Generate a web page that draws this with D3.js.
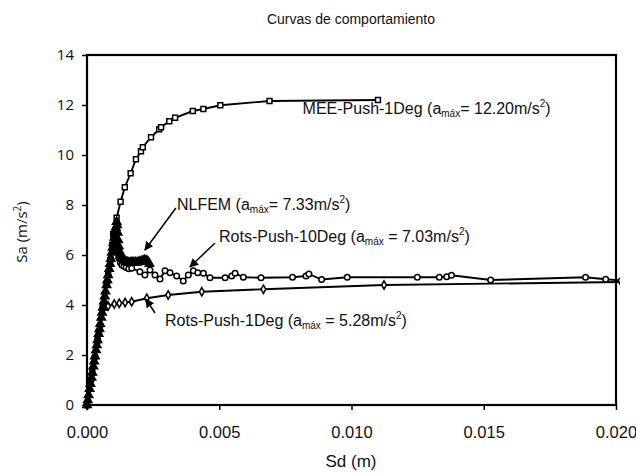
<!DOCTYPE html>
<html><head><meta charset="utf-8">
<script src="https://cdn.jsdelivr.net/npm/d3@7"></script>
<style>
body{margin:0;background:#fff;}
svg{display:block;}
</style></head>
<body>
<svg id="c" width="636" height="474"></svg>
<script>
// ---- data ----
const xTicks = [0, 0.005, 0.010, 0.015, 0.020];
const yTicks = [0, 2, 4, 6, 8, 10, 12, 14];

const meeX = [0, 0.0002, 0.0004, 0.0006, 0.0008, 0.00088, 0.00095, 0.00099, 0.00112, 0.00127, 0.00143, 0.00165, 0.00185, 0.00204, 0.00211, 0.00242, 0.00273, 0.0028, 0.00311, 0.00333, 0.004, 0.0044, 0.00504, 0.0069, 0.011];
const meeY = [0, 1.3, 2.6, 3.9, 5.2, 5.8, 6.4, 6.83, 7.49, 8.13, 8.71, 9.27, 9.83, 10.15, 10.31, 10.71, 11.03, 11.11, 11.35, 11.49, 11.76, 11.84, 11.99, 12.16, 12.2];

const nlfemX = [0, 0.00003, 0.00006, 0.0001, 0.00013, 0.00017, 0.0002, 0.00024, 0.00027, 0.0003, 0.00034, 0.00037, 0.0004, 0.00044, 0.00047, 0.0005, 0.00054, 0.00057, 0.0006, 0.00064, 0.00067, 0.0007, 0.00074, 0.00077, 0.0008, 0.00084, 0.00087, 0.0009, 0.00094, 0.00097, 0.001, 0.00103, 0.00106, 0.00109, 0.00112, 0.00114, 0.00116, 0.00118, 0.0012, 0.00123, 0.00126, 0.0013, 0.00135, 0.0014, 0.00146, 0.00152, 0.00158, 0.00164, 0.0017, 0.00176, 0.00182, 0.00188, 0.00194, 0.002, 0.00206, 0.00212, 0.00218, 0.00224, 0.0023, 0.00236];
const nlfemY = [0, 0.2, 0.4, 0.65, 0.85, 1.1, 1.3, 1.55, 1.75, 1.95, 2.2, 2.4, 2.6, 2.85, 3.05, 3.25, 3.5, 3.7, 3.9, 4.15, 4.35, 4.55, 4.8, 5.0, 5.2, 5.45, 5.65, 5.85, 6.1, 6.3, 6.5, 6.7, 6.9, 7.1, 7.33, 7.2, 6.9, 6.6, 6.35, 6.15, 6.0, 5.9, 5.85, 5.8, 5.75, 5.72, 5.7, 5.7, 5.72, 5.7, 5.72, 5.7, 5.72, 5.74, 5.75, 5.78, 5.8, 5.78, 5.75, 5.65];

const rots10X = [0, 0.00015, 0.0003, 0.00045, 0.0006, 0.00075, 0.0009, 0.00105, 0.00108, 0.00112, 0.00116, 0.0012, 0.00126, 0.00132, 0.0014, 0.00148, 0.00158, 0.00169, 0.002, 0.00219, 0.00238, 0.00257, 0.00276, 0.00295, 0.00314, 0.00339, 0.00364, 0.00383, 0.00402, 0.00419, 0.0044, 0.00465, 0.00522, 0.00547, 0.0056, 0.00591, 0.00658, 0.00777, 0.00828, 0.00839, 0.00887, 0.00984, 0.01249, 0.01332, 0.0136, 0.01378, 0.01526, 0.01885, 0.01961, 0.0202];
const rots10Y = [0, 1.0, 1.95, 2.9, 3.9, 4.85, 5.85, 6.8, 7.03, 6.6, 6.2, 5.9, 5.7, 5.6, 5.55, 5.5, 5.45, 5.47, 5.33, 5.2, 5.4, 5.2, 5.04, 5.37, 5.29, 5.16, 4.96, 5.2, 5.37, 5.29, 5.27, 5.09, 5.09, 5.16, 5.27, 5.11, 5.09, 5.11, 5.16, 5.24, 5.02, 5.11, 5.11, 5.11, 5.13, 5.19, 5.0, 5.11, 5.03, 4.98];

const rots1X = [0, 0.0001, 0.0002, 0.0003, 0.0004, 0.0005, 0.00064, 0.0008, 0.00103, 0.00122, 0.00144, 0.00169, 0.00226, 0.00307, 0.00434, 0.00667, 0.01123, 0.0202];
const rots1Y = [0, 0.62, 1.25, 1.87, 2.5, 3.12, 3.95, 3.96, 4.04, 4.07, 4.1, 4.13, 4.27, 4.4, 4.53, 4.63, 4.8, 4.92];

// annotations
const annLabels = ["MEE-Push-1Deg (a", "NLFEM (a", "Rots-Push-10Deg (a", "Rots-Push-1Deg (a"];
const annValues = ["= 12.20m/s", "= 7.33m/s", " = 7.03m/s", " = 5.28m/s"];
const annTextX = [0.00815, 0.00340, 0.00499, 0.00295];
const annTextY = [11.66, 7.82, 6.54, 3.18];
const annFromX = [null, 0.00336, 0.00484, 0.00257];
const annFromY = [null, 7.88, 6.48, 3.68];
const annToX = [null, 0.00219, 0.00389, 0.00223];
const annToY = [null, 6.2, 5.52, 4.24];

// ---- layout ----
const W = 636, H = 474;
const m = {l: 87, r: 20, t: 55, b: 69};
const svg = d3.select("#c");
const x = d3.scaleLinear().domain([0, 0.02]).range([m.l, W - m.r]);
const y = d3.scaleLinear().domain([0, 14]).range([H - m.b, m.t]);

const defs = svg.append("defs");
defs.append("clipPath").attr("id", "clip")
  .append("rect").attr("x", m.l - 6).attr("y", m.t).attr("width", W - m.r - m.l + 10).attr("height", H - m.b - m.t + 8);

// title
svg.append("text").attr("x", 351).attr("y", 24).attr("text-anchor", "middle")
  .attr("font-family", "Liberation Sans, Arial, sans-serif").attr("font-size", 14).attr("fill", "#111")
  .text("Curvas de comportamiento");

// axes
const xAxis = svg.append("g").attr("transform", `translate(0,${H - m.b})`)
  .call(d3.axisBottom(x).tickValues(xTicks).tickFormat(d3.format(".3f")).tickSize(5).tickPadding(16));
xAxis.selectAll("text").attr("font-family", "Liberation Sans Narrow, Arial Narrow, sans-serif").attr("font-size", 16.5).attr("fill", "#111");
const yAxis = svg.append("g").attr("transform", `translate(${m.l},0)`)
  .call(d3.axisLeft(y).tickValues(yTicks).tickSize(5).tickPadding(8));
yAxis.selectAll("text").attr("font-family", "Open Sans, Noto Sans, sans-serif").attr("font-size", 15).attr("fill", "#111");
svg.selectAll(".domain").remove();
svg.selectAll(".tick line").attr("stroke", "#000").attr("stroke-width", 1.5);

// frame
svg.append("rect").attr("x", x(0)).attr("y", y(14)).attr("width", x(0.02) - x(0)).attr("height", y(0) - y(14))
  .attr("fill", "none").attr("stroke", "#000").attr("stroke-width", 2.2);

// axis labels
svg.append("text").attr("x", 351).attr("y", 467).attr("text-anchor", "middle")
  .attr("font-family", "Liberation Sans Narrow, Arial Narrow, sans-serif").attr("font-size", 17).attr("fill", "#111")
  .text("Sd (m)");
const yl = svg.append("text").attr("transform", "translate(27,232) rotate(-90)").attr("text-anchor", "middle")
  .attr("font-family", "Open Sans, Noto Sans, sans-serif").attr("font-size", 15).attr("fill", "#111");
yl.append("tspan").text("Sa (m/s");
yl.append("tspan").attr("font-size", 10).attr("dy", -6).text("2");
yl.append("tspan").attr("dy", 6).text(")");

// series
const plot = svg.append("g").attr("clip-path", "url(#clip)");
const line = d3.line().x(d => x(d[0])).y(d => y(d[1]));
function series(xs, ys, sym, size, filled) {
  const pts = xs.map((v, i) => [v, ys[i]]);
  plot.append("path").datum(pts).attr("d", line).attr("fill", "none").attr("stroke", "#000").attr("stroke-width", 1.9);
  plot.selectAll(null).data(pts).enter().append("path")
    .attr("transform", d => `translate(${x(d[0])},${y(d[1])})`)
    .attr("d", d3.symbol().type(sym).size(size))
    .attr("fill", filled ? "#000" : "#fff").attr("stroke", "#000").attr("stroke-width", 1.5);
}
series(rots1X, rots1Y, d3.symbolDiamond, 20, false);
series(rots10X, rots10Y, d3.symbolCircle, 24, false);
series(meeX, meeY, d3.symbolSquare, 24, false);
series(nlfemX, nlfemY, d3.symbolTriangle, 30, true);

// annotations
defs.append("marker").attr("id", "arr").attr("viewBox", "0 0 10 10")
  .attr("refX", 9).attr("refY", 5).attr("markerWidth", 9).attr("markerHeight", 9).attr("orient", "auto")
  .attr("markerUnits", "userSpaceOnUse")
  .append("path").attr("d", "M0,0 L10,5 L0,10 z").attr("fill", "#000");
annLabels.forEach((lab, i) => {
  const t = svg.append("text").attr("x", x(annTextX[i])).attr("y", y(annTextY[i]))
    .attr("font-family", "Liberation Sans, Arial, sans-serif").attr("font-size", 16).attr("fill", "#111");
  t.append("tspan").text(lab);
  t.append("tspan").attr("font-size", 10).attr("dy", 3).text("máx");
  t.append("tspan").attr("dy", -3).text(annValues[i]);
  t.append("tspan").attr("font-size", 10).attr("dy", -7).text("2");
  t.append("tspan").attr("dy", 7).text(")");
  if (annFromX[i] !== null) {
    svg.append("line").attr("x1", x(annFromX[i])).attr("y1", y(annFromY[i]))
      .attr("x2", x(annToX[i])).attr("y2", y(annToY[i]))
      .attr("stroke", "#000").attr("stroke-width", 1.5).attr("marker-end", "url(#arr)");
  }
});
</script>
</body></html>
